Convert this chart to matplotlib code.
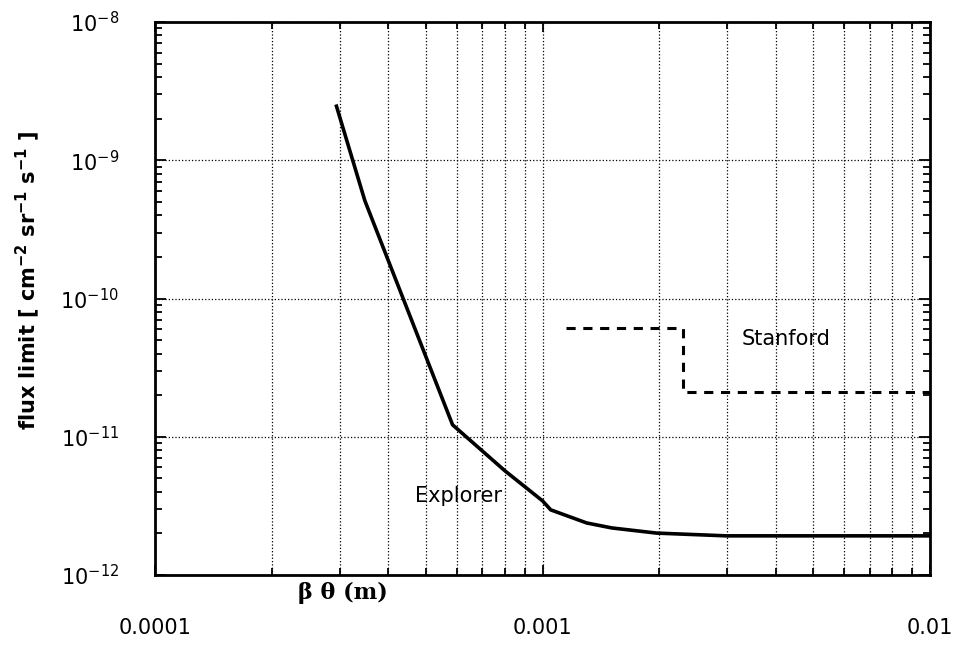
import matplotlib
matplotlib.use("Agg")
import matplotlib.pyplot as plt
from matplotlib.ticker import LogLocator, NullFormatter

plt.rcParams['font.family'] = ['DejaVu Sans']
plt.rcParams['mathtext.default'] = 'regular'

# Explorer curve
explorer_x = [2.94e-4, 3.48e-4, 5.86e-4, 8.0e-4, 1.0e-3, 1.05e-3, 1.3e-3, 1.51e-3, 1.97e-3, 2.98e-3, 1.0e-2]
explorer_y = [2.46e-9, 5.1e-10, 1.22e-11, 5.67e-12, 3.44e-12, 2.96e-12, 2.38e-12, 2.19e-12, 2.01e-12, 1.92e-12, 1.92e-12]

# Stanford step (dashed)
stanford_x = [1.15e-3, 2.3e-3, 2.3e-3, 1.0e-2]
stanford_y = [6.16e-11, 6.16e-11, 2.12e-11, 2.12e-11]

xtick_vals = [1e-4, 1e-3, 1e-2]
xtick_labels = ['0.0001', '0.001', '0.01']
ytick_vals = [1e-12, 1e-11, 1e-10, 1e-9, 1e-8]
ytick_labels = [r'$10^{-12}$', r'$10^{-11}$', r'$10^{-10}$', r'$10^{-9}$', r'$10^{-8}$']

fig = plt.figure(figsize=(9.59, 6.45), dpi=100)
ax = fig.add_axes([0.1616, 0.1085, 0.8082, 0.8574])
ax.set_xscale('log')
ax.set_yscale('log')
ax.set_xlim(1e-4, 1e-2)
ax.set_ylim(1e-12, 1e-8)

ax.plot(explorer_x, explorer_y, color='black', lw=2.6, solid_joinstyle='round')
ax.plot(stanford_x, stanford_y, color='black', lw=2.2, linestyle=(0, (3, 2.5)))

ax.set_xticks(xtick_vals)
ax.set_xticklabels(xtick_labels, fontsize=15)
ax.set_yticks(ytick_vals)
ax.set_yticklabels(ytick_labels, fontsize=15)
ax.xaxis.set_minor_locator(LogLocator(base=10, subs=range(2, 10)))
ax.yaxis.set_minor_locator(LogLocator(base=10, subs=range(2, 10)))
ax.xaxis.set_minor_formatter(NullFormatter())
ax.yaxis.set_minor_formatter(NullFormatter())

ax.tick_params(which='both', direction='in', top=True, right=True)
ax.tick_params(axis='x', which='major', length=7, width=1.3, pad=31)
ax.tick_params(axis='x', which='minor', length=5, width=1.3)
ax.tick_params(axis='y', which='major', length=8, width=1.3, pad=26)
ax.tick_params(axis='y', which='minor', length=5, width=1.3)

ax.grid(True, which='major', axis='both', color='black', linestyle=':', linewidth=0.9)
ax.grid(True, which='minor', axis='x', color='black', linestyle=':', linewidth=0.9)

for s in ax.spines.values():
    s.set_linewidth(2.0)

ax.set_ylabel(r'flux limit [ cm$^{-2}$ sr$^{-1}$ s$^{-1}$ ]', fontsize=15, fontweight='bold')
ax.yaxis.set_label_coords(-0.146, 0.533)
ax.set_xlabel('β θ (m)', fontsize=16, fontweight='bold', family='DejaVu Serif')
ax.xaxis.set_label_coords(0.242, -0.012)
ax.xaxis.label.set_verticalalignment('top')

ax.text(4.7e-4, 3.75e-12, 'Explorer', fontsize=15, ha='left', va='center')
ax.text(3.27e-3, 5.1e-11, 'Stanford', fontsize=15, ha='left', va='center')

fig.savefig('out.png', dpi=100)
